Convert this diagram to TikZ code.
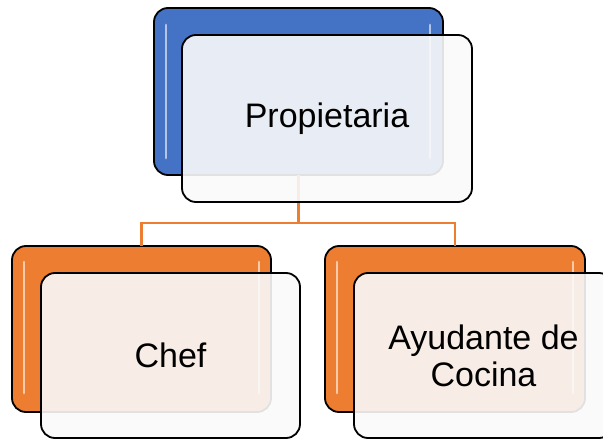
\documentclass[tikz,border=0pt]{standalone}
\usepackage{fontspec}
\setmainfont{Liberation Sans}
\definecolor{blueC}{HTML}{4472C4}
\definecolor{orangeC}{HTML}{ED7D31}
\definecolor{frontC}{HTML}{FAFAFA}
\begin{document}
\begin{tikzpicture}[x=1pt,y=-1pt,
  backbox/.style={draw=black, line width=1.8pt, rounded corners=14pt, inner sep=0pt, outer sep=0pt, anchor=north west, minimum width=259pt, minimum height=166pt},
  frontbox/.style={draw=black, line width=1.8pt, rounded corners=14pt, inner sep=0pt, outer sep=0pt, anchor=north west, minimum width=259pt, minimum height=165pt, fill=frontC, fill opacity=0.9, text opacity=1, align=center, font=\fontsize{34}{37}\selectfont},
  gloss/.style={line width=2.8pt, line cap=round, draw=white, draw opacity=0.6},
  conn/.style={draw=orangeC, line width=2.5pt}]
\useasboundingbox (0,0) rectangle (603,439);
% back boxes
\node[backbox, fill=blueC, minimum width=289pt, minimum height=167pt] (pb) at (154,8) {};
\node[backbox, fill=orangeC] (cb) at (12,246) {};
\node[backbox, fill=orangeC, minimum width=260pt] (ab) at (325,246) {};
% gloss highlights
\draw[gloss] (166,25) -- (166,158);
\draw[gloss] (430,25) -- (430,158);
\draw[gloss] (24,262) -- (24,393);
\draw[gloss] (259,262) -- (259,393);
\draw[gloss] (337,262) -- (337,393);
\draw[gloss] (573,262) -- (573,393);
% connectors
\coordinate (j) at (298.5,223);
\draw[conn] (pb.south) -- (j);
\draw[conn] (cb.north) |- (j) -| (ab.north);
% front boxes
\node[frontbox, minimum width=290pt, minimum height=167pt] (pf) at (182,35) {Propietaria};
\node[frontbox] (cf) at (41,273) {Chef};
\node[frontbox] (af) at (354,273) {Ayudante de\\Cocina};
\end{tikzpicture}
\end{document}
